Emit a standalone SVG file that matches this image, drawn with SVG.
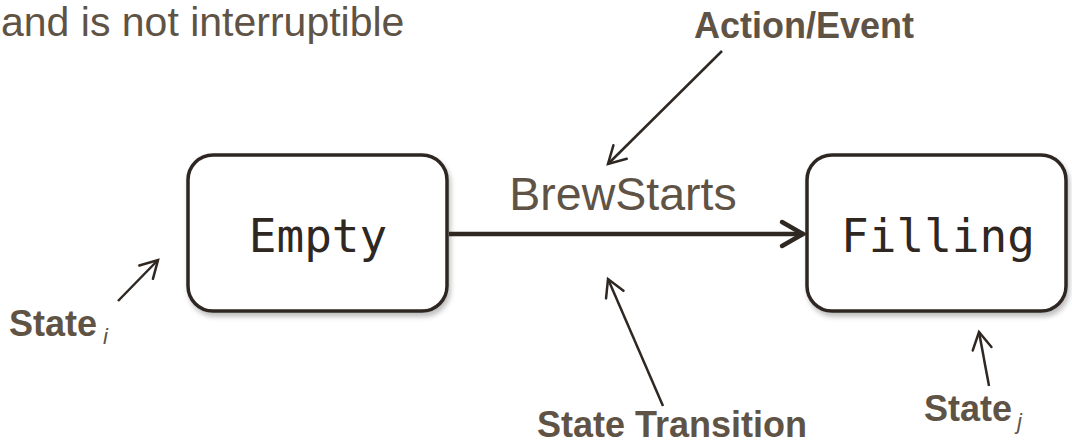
<svg xmlns="http://www.w3.org/2000/svg" width="1072" height="445" viewBox="0 0 1072 445">
  <style>
    .lbl { font-family: "Liberation Sans", Arial, sans-serif; fill: #5f5346; }
    .bold { font-weight: bold; font-size: 36px; }
    .sub { font-style: italic; font-weight: normal; font-size: 22px; }
    .state { fill: #ffffff; stroke: #2f2721; stroke-width: 3.5; filter: url(#shadow); }
    .mono { font-family: "DejaVu Sans Mono", "Liberation Mono", monospace; font-size: 46px; fill: #2f2721; }
    .pointer { stroke: #2f2721; stroke-width: 2.5; fill: none; marker-end: url(#openSmall); }
  </style>
  <defs>
    <filter id="shadow" x="-10%" y="-10%" width="125%" height="130%">
      <feDropShadow dx="2" dy="4" stdDeviation="2.5" flood-color="#000000" flood-opacity="0.25"/>
    </filter>
    <marker id="openSmall" markerUnits="userSpaceOnUse" viewBox="-20 -12 22 24" refX="0" refY="0" markerWidth="22" markerHeight="24" orient="auto" overflow="visible">
      <path d="M-17,-9.5 L0,0 L-17,9.5" fill="none" stroke="#2f2721" stroke-width="2.5" stroke-linecap="round" stroke-linejoin="miter"/>
    </marker>
    <marker id="openBig" markerUnits="userSpaceOnUse" viewBox="-26 -15 28 30" refX="0" refY="0" markerWidth="28" markerHeight="30" orient="auto" overflow="visible">
      <path d="M-22,-12 L-1,0 L-22,12" fill="none" stroke="#2f2721" stroke-width="4.5" stroke-linecap="round"/>
    </marker>
  </defs>

  <text class="lbl" x="1" y="36" font-size="41">and is not interruptible</text>

  <g id="node-empty">
    <rect class="state" x="188" y="155" width="259" height="156" rx="25" ry="25"/>
    <text class="mono" x="318" y="252" text-anchor="middle">Empty</text>
  </g>

  <g id="node-filling">
    <rect class="state" x="807" y="155" width="259" height="156" rx="25" ry="25"/>
    <text class="mono" x="938" y="252" text-anchor="middle">Filling</text>
  </g>

  <g id="connectors">
    <line x1="449" y1="234" x2="804" y2="234" stroke="#2f2721" stroke-width="4.5" marker-end="url(#openBig)"/>
    <line class="pointer" x1="722" y1="51" x2="608" y2="164"/>
    <line class="pointer" x1="663" y1="406" x2="608" y2="279"/>
    <line class="pointer" x1="118" y1="301" x2="158" y2="260"/>
    <line class="pointer" x1="989" y1="386" x2="979" y2="332"/>
  </g>

  <g id="labels">
    <text class="lbl" x="623" y="210" font-size="46.5" text-anchor="middle">BrewStarts</text>
    <text class="lbl bold" x="694" y="38">Action/Event</text>
    <text class="lbl bold" x="537" y="437">State Transition</text>
    <text class="lbl bold" x="9" y="336">State<tspan class="sub" dx="6" dy="8">i</tspan></text>
    <text class="lbl bold" x="924" y="421">State<tspan class="sub" dx="5" dy="8">j</tspan></text>
  </g>
</svg>
